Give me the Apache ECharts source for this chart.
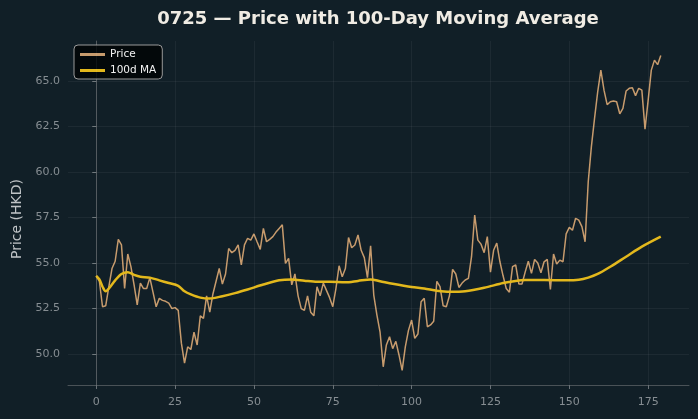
<!DOCTYPE html>
<html>
<head>
<meta charset="utf-8">
<script src="https://cdn.jsdelivr.net/npm/echarts@6/dist/echarts.min.js"></script>
<style>
html,body{margin:0;padding:0;background:#111f27;}
#c{width:698px;height:419px;}
</style>
</head>
<body>
<div id="c"></div>
<script>
const priceValues = [
54.3,54.0,52.6,52.65,53.7,54.7,55.1,56.3,56.0,53.6,
55.5,54.8,53.8,52.7,53.9,53.6,53.6,54.2,53.4,52.6,
53.06,52.95,52.9,52.8,52.5,52.55,52.4,50.6,49.5,50.4,
50.25,51.2,50.5,52.1,51.96,53.2,52.3,53.3,54.0,54.7,
53.85,54.4,55.8,55.57,55.7,56.0,54.9,56.0,56.36,56.26,
56.6,56.17,55.75,56.9,56.17,56.3,56.45,56.7,56.9,57.1,
54.98,55.26,53.8,54.4,53.2,52.5,52.4,53.2,52.3,52.1,
53.7,53.2,53.9,53.5,53.1,52.6,53.6,54.85,54.25,54.7,
56.4,55.84,55.99,56.54,55.7,55.3,54.2,55.95,53.24,52.14,
51.2,49.3,50.5,50.95,50.3,50.7,49.95,49.1,50.4,51.3,
51.87,50.86,51.1,52.87,53.06,51.5,51.6,51.8,54.0,53.7,
52.65,52.6,53.2,54.65,54.4,53.66,53.9,54.07,54.16,55.35,
57.64,56.26,56.04,55.57,56.45,54.5,55.7,56.1,55.07,54.3,
53.6,53.4,54.8,54.9,53.85,53.85,54.5,55.1,54.43,55.2,
55.0,54.47,55.07,55.2,53.55,55.5,54.95,55.16,55.07,56.6,
56.96,56.8,57.46,57.36,57.0,56.17,59.47,61.4,62.95,64.4,
65.6,64.5,63.7,63.86,63.9,63.86,63.2,63.5,64.45,64.6,
64.63,64.2,64.6,64.5,62.36,63.95,65.6,66.15,65.9,66.4
];
const maIndex = [0,1,2,3,4,6,8,10,12,14,17,20,23,26,28,30,33,36,40,44,48,53,58,62,66,70,74,79,83,87,90,94,100,104,108,112,117,123,129,133,136,142,149,153,156,159,163,168,173,179];
const maValues = [54.3,54.1,53.7,53.45,53.6,54.05,54.4,54.5,54.35,54.25,54.2,54.05,53.9,53.75,53.45,53.28,53.1,53.05,53.18,53.35,53.55,53.82,54.05,54.1,54.03,53.97,53.97,53.94,54.02,54.1,54.0,53.86,53.68,53.6,53.48,53.42,53.45,53.64,53.9,54.02,54.07,54.07,54.05,54.08,54.2,54.4,54.8,55.35,55.9,56.45];
const xTicks = [0,25,50,75,100,125,150,175];
const yTicks = [50.0,52.5,55.0,57.5,60.0,62.5,65.0];

const priceData = priceValues.map((v,i)=>[i,v]);
const maData = maIndex.map((x,i)=>[x,maValues[i]]);
const gridColor = 'rgba(255,255,255,0.05)';

const chart = echarts.init(document.getElementById('c'));
chart.setOption({
  backgroundColor:'#111f27',
  animation:false,
  textStyle:{fontFamily:'DejaVu Sans'},
  title:{
    text:'0725 — Price with 100-Day Moving Average',
    left:373, top:5, textAlign:'center',
    textStyle:{color:'#f0ece4',fontSize:18,fontWeight:'bold',fontFamily:'DejaVu Sans'}
  },
  legend:{
    orient:'vertical', left:74, top:45,
    backgroundColor:'#03080a', borderColor:'#9a9a9a', borderWidth:1, borderRadius:4,
    padding:[4,6,3,6], itemGap:5, itemWidth:25, itemHeight:3,
    textStyle:{color:'#f2f2f2',fontSize:10.5,fontFamily:'DejaVu Sans'},
    data:[{name:'Price',icon:'rect'},{name:'100d MA',icon:'rect'}]
  },
  graphic:[{
    type:'text', x:17, y:219, rotation:Math.PI/2,
    style:{text:'Price (HKD)', textAlign:'center', textVerticalAlign:'middle',
      fill:'#bfc3c6', font:'14px "DejaVu Sans"'}
  }],
  grid:{left:68,right:9,top:41,bottom:34},
  xAxis:{
    type:'value', min:-8.95, max:187.95,
    axisLine:{show:true,lineStyle:{color:'#4a5257',width:1}},
    axisTick:{show:true,customValues:xTicks,length:4,lineStyle:{color:'#6a7277'}},
    axisLabel:{customValues:xTicks,color:'#868d92',fontSize:11,margin:12,fontFamily:'DejaVu Sans'},
    splitLine:{show:false}
  },
  yAxis:{
    type:'value', min:48.3, max:67.2,
    axisLine:{show:true,lineStyle:{color:'#4a5257',width:1}},
    axisTick:{show:true,customValues:yTicks,length:4,lineStyle:{color:'#6a7277'}},
    axisLabel:{customValues:yTicks,color:'#868d92',fontSize:11,margin:8,fontFamily:'DejaVu Sans',formatter:v=>v.toFixed(1)},
    splitLine:{show:false}
  },
  series:[
    {
      name:'Price', type:'line', data:priceData, symbol:'none',
      lineStyle:{color:'#c79b6d',width:1.5}, itemStyle:{color:'#c79b6d'},
      z:2,
      markLine:{
        silent:true, symbol:'none', label:{show:false},
        lineStyle:{color:gridColor,width:1,type:'solid'},
        data: xTicks.map(t=>({xAxis:t})).concat(yTicks.map(t=>({yAxis:t})))
      }
    },
    {
      name:'100d MA', type:'line', data:maData, symbol:'none', smooth:0.3,
      lineStyle:{color:'#e3b81c',width:2.5}, itemStyle:{color:'#e3b81c'},
      z:3
    }
  ]
});
</script>
</body>
</html>
